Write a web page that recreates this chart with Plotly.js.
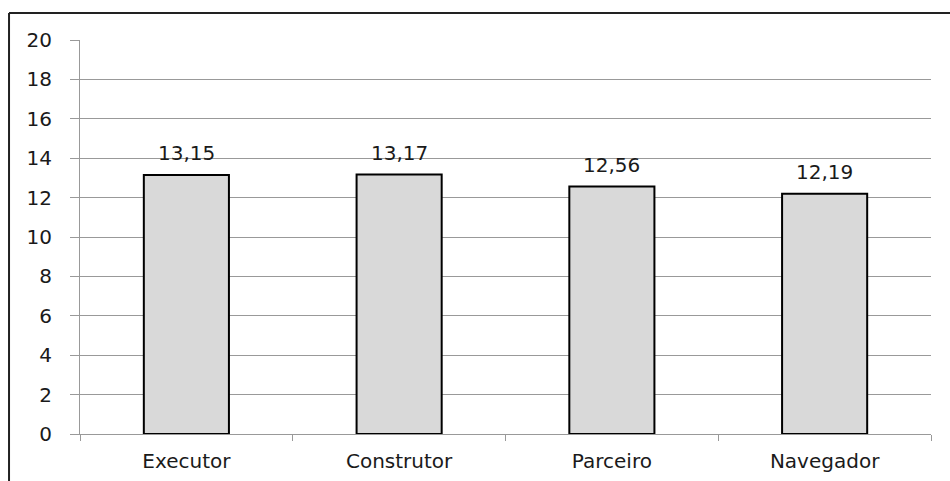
<!DOCTYPE html>
<html><head><meta charset="utf-8">
<script src="https://cdn.plot.ly/plotly-3.0.1.min.js"></script>
<style>html,body{margin:0;padding:0;background:#fff}#c{width:950px;height:481px}</style>
</head><body><div id="c"></div>
<script>
const categories = ["Executor", "Construtor", "Parceiro", "Navegador"];
const values = [13.15, 13.17, 12.56, 12.19];
const yTicks = [0, 2, 4, 6, 8, 10, 12, 14, 16, 18, 20];

const fontFam = '"DejaVu Sans", "Open Sans", sans-serif';
const trace = {
  type: 'bar', x: categories, y: values, width: 0.4,
  marker: {color: '#d9d9d9', line: {color: '#000', width: 2}},
  hoverinfo: 'none'
};
const annotations = categories.map((c, i) => ({
  x: c, y: values[i], xref: 'x', yref: 'y',
  text: values[i].toFixed(2).replace('.', ','),
  showarrow: false, yanchor: 'bottom', yshift: 8,
  font: {family: fontFam, size: 20, color: '#1a1a1a'}
}));
const layout = {
  width: 950, height: 481,
  margin: {l: 80, r: 19, t: 40, b: 47},
  paper_bgcolor: '#fff', plot_bgcolor: '#fff',
  showlegend: false,
  bargap: 0.6,
  xaxis: {
    type: 'category', showgrid: false, showline: true, linecolor: '#999', linewidth: 1,
    ticks: 'outside', tickson: 'boundaries', ticklen: 6, tickcolor: '#999',
    tickfont: {family: fontFam, size: 20, color: '#1a1a1a'},
    ticklabelstandoff: 9, zeroline: false
  },
  yaxis: {
    range: [0, 20], tickvals: yTicks, ticktext: yTicks.map(String),
    showgrid: true, gridcolor: '#999', gridwidth: 1,
    showline: true, linecolor: '#999', linewidth: 1,
    ticks: 'outside', ticklen: 9, tickcolor: '#999',
    tickfont: {family: fontFam, size: 20, color: '#1a1a1a'},
    ticklabelstandoff: 14, zeroline: false
  },
  annotations: annotations,
  shapes: [
    {type: 'line', xref: 'paper', yref: 'paper', x0: -0.0834, x1: -0.0834, y0: -0.2, y1: 1.0685, line: {color: '#222', width: 2}},
    {type: 'line', xref: 'paper', yref: 'paper', x0: -0.0834, x1: 1.1, y0: 1.0685, y1: 1.0685, line: {color: '#222', width: 2}}
  ]
};
Plotly.newPlot('c', [trace], layout, {staticPlot: true, displayModeBar: false});
</script></body></html>
